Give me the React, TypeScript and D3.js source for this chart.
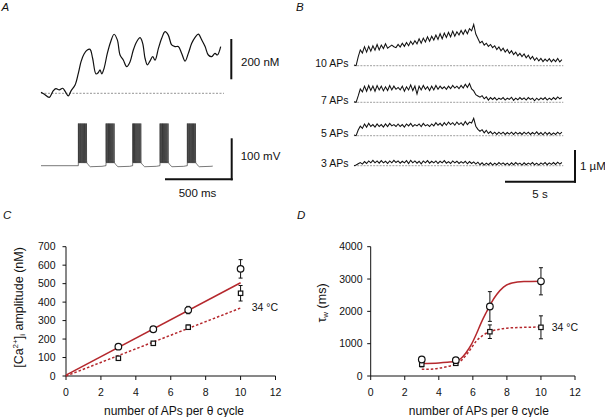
import React from "react";
import * as d3 from "d3";

// ---------------- DATA ----------------
// Panel A: [Ca2+]i trace (time in ms, concentration in nM above baseline)
const A_CA_T = [0,26,64,95,115,141,167,187,210,231,262,287,308,331,356,377,397,423,441,454,467,485,510,536,562,587,608,633,659,685,710,736,762,782,800,818,838,859,877,903,928,954,979,1005,1031,1056,1082,1108,1133,1159,1185,1210,1236,1262,1287,1313,1338,1356,1382];
const A_CA_NM = [5,-5,-20,13,23,17,25,8,-13,12,41,99,157,195,215,218,174,96,103,116,96,124,198,256,293,265,190,165,132,157,215,256,276,248,174,141,160,182,165,223,273,306,289,240,232,232,198,160,198,248,278,294,265,232,190,182,198,190,232];
// Panel A: membrane potential — burst onsets (ms) and spike times within a burst (ms)
const A_BURST_ONSET_MS = [287, 500, 705, 915, 1125];
const A_SPIKE_OFFSET_MS = [0, 6, 13, 19, 26, 33, 40, 47, 54, 62];
const A_V_END_MS = 1321;
const A_V_REST = -65, A_V_PEAK = 38, A_V_TROUGH = -52, A_V_INTER = -58;

// Panel B: [Ca2+]i traces (µM), sampled every B_DT_S seconds
const B_DT_S = 0.15;
const B_10AP = [0.02,0.0,0.28,0.5,0.4,0.6,0.43,0.61,0.46,0.63,
0.49,0.67,0.5,0.65,0.54,0.69,0.55,0.6,0.65,0.6,
0.57,0.67,0.59,0.71,0.61,0.73,0.63,0.77,0.67,0.79,
0.69,0.85,0.71,0.87,0.75,0.91,0.77,0.93,0.81,0.97,
0.83,1.01,0.85,1.03,0.89,1.05,0.91,1.09,0.93,1.07,
0.97,1.11,0.99,1.13,1.01,1.17,1.1,1.3,1.0,0.86,
0.72,0.77,0.65,0.71,0.61,0.67,0.57,0.63,0.51,0.59,
0.47,0.55,0.43,0.51,0.39,0.47,0.35,0.43,0.31,0.39,
0.29,0.37,0.25,0.33,0.21,0.29,0.17,0.25,0.15,0.23,
0.13,0.21,0.14,0.22,0.12,0.2,0.13,0.23,0.12,0.19];
const B_7AP = [0.02,0.0,0.2,0.42,0.33,0.51,0.35,0.53,0.37,0.51,
0.35,0.53,0.39,0.51,0.36,0.49,0.37,0.53,0.39,0.51,
0.41,0.47,0.39,0.51,0.35,0.49,0.39,0.55,0.37,0.51,
0.26,0.51,0.39,0.53,0.41,0.49,0.37,0.51,0.39,0.53,
0.41,0.51,0.43,0.49,0.41,0.51,0.43,0.53,0.45,0.51,
0.43,0.53,0.45,0.57,0.47,0.59,0.42,0.36,0.24,0.2,
0.16,0.21,0.11,0.17,0.07,0.15,0.09,0.15,0.07,0.13,
0.09,0.15,0.07,0.13,0.09,0.16,0.06,0.13,0.08,0.15,
0.09,0.14,0.07,0.15,0.09,0.13,0.05,0.13,0.07,0.14,
0.09,0.15,0.07,0.13,0.08,0.15,0.09,0.17,0.11,0.15];
const B_5AP = [0.02,0.0,0.18,0.3,0.23,0.37,0.27,0.39,0.29,0.35,
0.27,0.37,0.29,0.35,0.27,0.37,0.29,0.39,0.31,0.35,
0.29,0.37,0.29,0.35,0.27,0.37,0.31,0.39,0.29,0.35,
0.31,0.37,0.29,0.39,0.31,0.35,0.29,0.37,0.31,0.41,
0.33,0.39,0.31,0.41,0.33,0.43,0.35,0.41,0.33,0.43,
0.35,0.41,0.33,0.45,0.35,0.43,0.4,0.55,0.3,0.2,
0.14,0.19,0.09,0.17,0.07,0.13,0.05,0.11,0.04,0.11,
0.05,0.11,0.04,0.1,0.05,0.11,0.04,0.11,0.05,0.1,
0.04,0.11,0.05,0.11,0.04,0.1,0.05,0.12,0.04,0.1,
0.03,0.11,0.04,0.1,0.03,0.09,0.04,0.11,0.05,0.11];
const B_3AP = [0.0,0.02,0.06,0.1,0.05,0.13,0.07,0.15,0.09,0.17,
0.09,0.15,0.08,0.16,0.09,0.14,0.07,0.15,0.09,0.17,
0.1,0.15,0.08,0.14,0.09,0.16,0.07,0.17,0.09,0.15,
0.08,0.14,0.06,0.15,0.09,0.16,0.08,0.14,0.09,0.15,
0.07,0.14,0.09,0.16,0.08,0.13,0.07,0.15,0.09,0.14,
0.07,0.13,0.08,0.14,0.06,0.13,0.07,0.12,0.05,0.11,
0.03,0.09,0.02,0.08,0.03,0.09,0.02,0.08,0.03,0.1,
0.04,0.09,0.03,0.08,0.02,0.09,0.03,0.1,0.04,0.08,
0.02,0.09,0.03,0.08,0.04,0.1,0.03,0.08,0.02,0.09,
0.04,0.1,0.03,0.09,0.04,0.1,0.04,0.11,0.05,0.1];
const B_LABELS = ["10 APs", "7 APs", "5 APs", "3 APs"];
const B_TRACES = [B_10AP, B_7AP, B_5AP, B_3AP];

// Panel C: amplitude (nM) vs APs per theta cycle
const C_X = [3, 5, 7, 10];
const C_CIRC = [159, 253, 357, 580];
const C_CIRC_ERR = [8, 10, 20, 50];
const C_SQ = [96, 177, 264, 448];
const C_SQ_ERR = [8, 10, 12, 42];
const C_FIT_SOLID: [number, number][] = [[0, 5], [10, 505]];
const C_FIT_DOT: [number, number][] = [[0, 0], [10, 368]];
const C_YTICKS = [0, 100, 200, 300, 400, 500, 600, 700];

// Panel D: tau_w (ms) vs APs per theta cycle
const D_X = [3, 5, 7, 10];
const D_CIRC = [510, 490, 2150, 2930];
const D_CIRC_ERR = [40, 40, 460, 420];
const D_SQ = [362, 393, 1370, 1506];
const D_SQ_ERR = [80, 40, 210, 355];
const D_FIT_SOLID: [number, number][] = [[3,390],[4,405],[4.5,425],[5,455],[5.3,540],[5.6,720],[5.9,960],[6.2,1290],[6.5,1660],[6.8,1980],[7.1,2280],[7.4,2520],[7.8,2750],[8.3,2880],[9,2925],[10,2935]];
const D_FIT_DOT: [number, number][] = [[3,210],[3.5,210],[4,240],[4.5,290],[5,370],[5.4,520],[5.8,780],[6.2,1080],[6.6,1260],[7,1370],[7.5,1440],[8,1480],[9,1505],[10,1515]];
const D_YTICKS = [0, 1000, 2000, 3000, 4000];
const X_TICKS = [0, 2, 4, 6, 8, 10, 12];

// ---------------- STYLE ----------------
const FONT = "'Liberation Sans', Arial, Helvetica, sans-serif";
const RED = "#b5282d";
const INK = "#111";

function ErrMarker({ x, y, e, shape, sx, sy }: any) {
  const cx = sx(x), cy = sy(y);
  const top = sy(y + e), bot = sy(y - e);
  const cap = 2;
  return (
    <g>
      <line x1={cx} x2={cx} y1={top} y2={bot} stroke={INK} strokeWidth={1} />
      <line x1={cx - cap} x2={cx + cap} y1={top} y2={top} stroke={INK} strokeWidth={1} />
      <line x1={cx - cap} x2={cx + cap} y1={bot} y2={bot} stroke={INK} strokeWidth={1} />
      {shape === "circle" ? (
        <circle cx={cx} cy={cy} r={3.3} fill="#fff" stroke={INK} strokeWidth={1.2} />
      ) : (
        <rect x={cx - 2.2} y={cy - 2.2} width={4.4} height={4.4} fill="#fff" stroke={INK} strokeWidth={1.2} />
      )}
    </g>
  );
}

function Axes({ sx, sy, yTicks, labelGap }: any) {
  const [x0, x1] = sx.range();
  const [y0, y1] = sy.range();
  return (
    <g fontFamily={FONT} fontSize={10.5} fill={INK}>
      <line x1={x0} x2={x0} y1={y0} y2={y1} stroke={INK} strokeWidth={1} />
      <line x1={x0} x2={x1} y1={y0} y2={y0} stroke={INK} strokeWidth={1} />
      {yTicks.map((t: number) => (
        <g key={"y" + t}>
          <line x1={x0 - 3.5} x2={x0} y1={sy(t)} y2={sy(t)} stroke={INK} strokeWidth={1} />
          <text x={x0 - labelGap} y={sy(t)} dy="0.35em" textAnchor="end">{t}</text>
        </g>
      ))}
      {X_TICKS.map((t) => (
        <g key={"x" + t}>
          <line x1={sx(t)} x2={sx(t)} y1={y0} y2={y0 + 4} stroke={INK} strokeWidth={1} />
          <text x={sx(t)} y={y0 + 19.5} textAnchor="middle">{t}</text>
        </g>
      ))}
    </g>
  );
}

export default function App() {
  // ---- Panel A scales ----
  const aT = d3.scaleLinear().domain([0, 1382]).range([41, 220.7]);
  const aCa = d3.scaleLinear().domain([0, 200]).range([93.3, 53]);
  const aV = d3.scaleLinear().domain([-65, 35]).range([165.7, 124.7]);
  const caPts: [number, number][] = A_CA_T.map((t, i) => [t, A_CA_NM[i]]);
  const caLine = d3.line<[number, number]>().x((d) => aT(d[0])).y((d) => aCa(d[1])).curve(d3.curveCatmullRom.alpha(0.5));

  const vPts: [number, number][] = [[0, A_V_REST]];
  A_BURST_ONSET_MS.forEach((b) => {
    vPts.push([b - 1, A_V_REST]);
    A_SPIKE_OFFSET_MS.forEach((o, k) => {
      const ts = b + o;
      vPts.push([ts, k === 0 ? A_V_REST : A_V_INTER]);
      vPts.push([ts + 0.6, A_V_PEAK]);
      vPts.push([ts + 1.6, A_V_TROUGH]);
      vPts.push([ts + 3.5, A_V_INTER]);
    });
    const last = b + A_SPIKE_OFFSET_MS[A_SPIKE_OFFSET_MS.length - 1];
    vPts.push([last + 12, -62], [last + 30, -67.5], [last + 120, -66.5]);
  });
  vPts.push([A_V_END_MS, -66]);
  const vLine = d3.line<[number, number]>().x((d) => aT(d[0])).y((d) => aV(d[1]));

  // ---- Panel B scales ----
  const bT = d3.scaleLinear().domain([0, 15]).range([354, 564]);
  const bY = d3.scaleLinear().domain([0, 1]).range([0, -31.7]);
  const bBase = [65.7, 102.3, 135.7, 165.7];
  const bLine = d3.line<number>().x((_, i) => bT(i * B_DT_S)).y((v) => bY(v));

  // ---- Panel C scales ----
  const cX = d3.scaleLinear().domain([0, 12]).range([66, 275.5]);
  const cY = d3.scaleLinear().domain([0, 700]).range([376, 246.7]);
  const cLine = d3.line<[number, number]>().x((d) => cX(d[0])).y((d) => cY(d[1]));

  // ---- Panel D scales ----
  const dX = d3.scaleLinear().domain([0, 12]).range([370.7, 575]);
  const dY = d3.scaleLinear().domain([0, 4000]).range([376, 246.7]);
  const dLine = d3.line<[number, number]>().x((d) => dX(d[0])).y((d) => dY(d[1])).curve(d3.curveMonotoneX);

  return (
    <svg width={605} height={417} viewBox="0 0 605 417" style={{ position: "absolute", left: 0, top: 0, background: "#fff" }} fontFamily={FONT}>
      <rect width={605} height={417} fill="#fff" />
      {/* Panel letters */}
      <g fontStyle="italic" fontSize={11.5} fill={INK}>
        <text x={1.5} y={11}>A</text>
        <text x={296} y={11}>B</text>
        <text x={3} y={218.5}>C</text>
        <text x={297} y={218.5}>D</text>
      </g>

      {/* ===== Panel A ===== */}
      <line x1={aT(0)} x2={224} y1={aCa(0)} y2={aCa(0)} stroke="#666" strokeWidth={0.7} strokeDasharray="2,1.5" />
      <path d={caLine(caPts) || ""} fill="none" stroke={INK} strokeWidth={1.2} />
      <line x1={231.3} x2={231.3} y1={39} y2={79.3} stroke={INK} strokeWidth={2} />
      <text x={241} y={65.8} fontSize={11.5} fill={INK}>200 nM</text>
      <path d={vLine(vPts) || ""} fill="none" stroke="#1e1e1e" strokeWidth={0.6} />
      <line x1={231.7} x2={231.7} y1={138.3} y2={180.3} stroke={INK} strokeWidth={2} />
      <line x1={165} x2={232.7} y1={179.3} y2={179.3} stroke={INK} strokeWidth={2} />
      <text x={240.7} y={160} fontSize={11.5} fill={INK}>100 mV</text>
      <text x={197.5} y={197} fontSize={11.5} fill={INK} textAnchor="middle">500 ms</text>

      {/* ===== Panel B ===== */}
      {B_TRACES.map((tr, k) => (
        <g key={k} transform={`translate(0,${bBase[k]})`}>
          <line x1={bT(0)} x2={bT(14.95)} y1={0} y2={0} stroke="#777" strokeWidth={0.7} strokeDasharray="2,1.2" />
          <path d={bLine(tr) || ""} fill="none" stroke={INK} strokeWidth={1.05} />
          <text x={348.5} y={1.5} fontSize={10.5} textAnchor="end" fill={INK}>{B_LABELS[k]}</text>
        </g>
      ))}
      <line x1={575} x2={575} y1={150} y2={182.7} stroke={INK} strokeWidth={2} />
      <line x1={505} x2={576} y1={181.7} y2={181.7} stroke={INK} strokeWidth={2} />
      <text x={580} y={169.5} fontSize={11.5} fill={INK}>1 µM</text>
      <text x={540} y={198.3} fontSize={11.5} fill={INK} textAnchor="middle">5 s</text>

      {/* ===== Panel C ===== */}
      <Axes sx={cX} sy={cY} yTicks={C_YTICKS} labelGap={10.5} />
      <path d={cLine(C_FIT_SOLID) || ""} fill="none" stroke={RED} strokeWidth={1.5} />
      <path d={cLine(C_FIT_DOT) || ""} fill="none" stroke={RED} strokeWidth={1.5} strokeDasharray="2.5,2" />
      {C_X.map((x, i) => (
        <g key={"c" + i}>
          <ErrMarker x={x} y={C_SQ[i]} e={C_SQ_ERR[i]} shape="square" sx={cX} sy={cY} />
          <ErrMarker x={x} y={C_CIRC[i]} e={C_CIRC_ERR[i]} shape="circle" sx={cX} sy={cY} />
        </g>
      ))}
      <text x={251.7} y={311.3} fontSize={10.5} fill={INK}>34 °C</text>
      <text x={174} y={414.5} fontSize={12} textAnchor="middle" fill={INK}>number of APs per θ cycle</text>
      <text transform="translate(22.5,307.5) rotate(-90)" fontSize={12.5} textAnchor="middle" fill={INK}>
        [Ca<tspan dy={-4.5} fontSize={8}>2+</tspan><tspan dy={4.5}>]</tspan><tspan dy={2.5} fontSize={8}>i</tspan><tspan dy={-2.5}> amplitude (nM)</tspan>
      </text>

      {/* ===== Panel D ===== */}
      <Axes sx={dX} sy={dY} yTicks={D_YTICKS} labelGap={8.2} />
      <path d={dLine(D_FIT_SOLID) || ""} fill="none" stroke={RED} strokeWidth={1.5} />
      <path d={dLine(D_FIT_DOT) || ""} fill="none" stroke={RED} strokeWidth={1.5} strokeDasharray="2.5,2" />
      {D_X.map((x, i) => (
        <g key={"d" + i}>
          <ErrMarker x={x} y={D_SQ[i]} e={D_SQ_ERR[i]} shape="square" sx={dX} sy={dY} />
          <ErrMarker x={x} y={D_CIRC[i]} e={D_CIRC_ERR[i]} shape="circle" sx={dX} sy={dY} />
        </g>
      ))}
      <text x={551.7} y={331} fontSize={10.5} fill={INK}>34 °C</text>
      <text x={478.8} y={414.5} fontSize={12} textAnchor="middle" fill={INK}>number of APs per θ cycle</text>
      <text transform="translate(325.5,303) rotate(-90)" fontSize={12.5} textAnchor="middle" fill={INK}>
        τ<tspan dy={2.5} fontSize={8}>w</tspan><tspan dy={-2.5}> (ms)</tspan>
      </text>
    </svg>
  );
}
